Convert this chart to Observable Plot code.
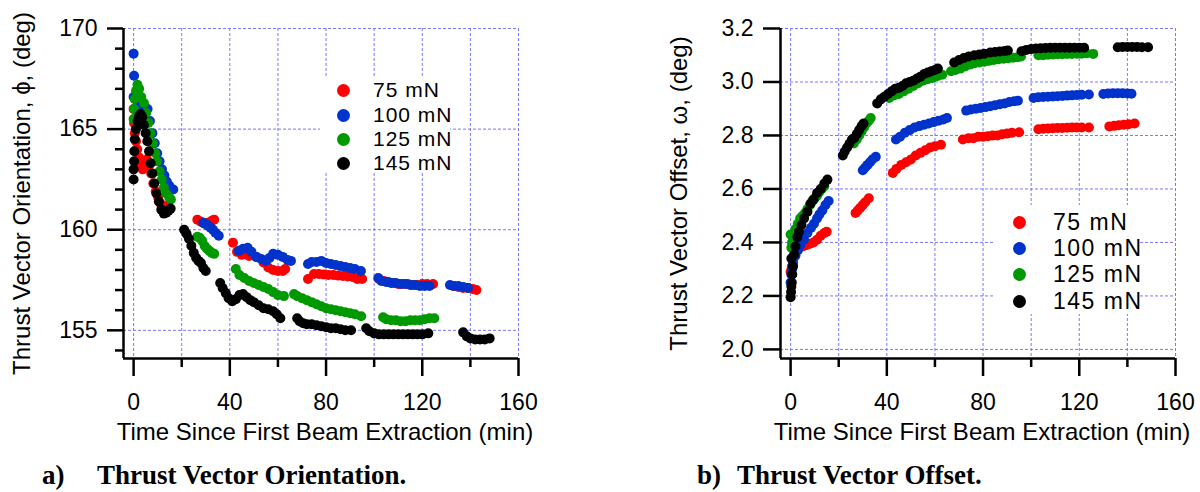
<!DOCTYPE html>
<html><head><meta charset="utf-8">
<script src="https://cdn.jsdelivr.net/npm/d3@7"></script>
<script src="https://cdn.jsdelivr.net/npm/@observablehq/plot@0.6"></script>
<style>
html,body{margin:0;padding:0;background:#fff;}
#wrap{position:relative;width:1200px;height:492px;overflow:hidden;font-family:"Liberation Sans",Arial,sans-serif;color:#000;}
.panel{position:absolute;top:0;}
.legend{position:absolute;background:#fff;color:#000;}
.legend .row{position:absolute;white-space:nowrap;}
.legend .sw{position:absolute;width:13px;height:13px;border-radius:50%;}
.caption{position:absolute;font-family:"Liberation Serif","Times New Roman",serif;font-weight:bold;font-size:27px;white-space:pre;line-height:27px;}
</style></head><body><div id="wrap"></div><script>
// ---- categories / labels ----
const seriesNames = ["75 mN", "100 mN", "125 mN", "145 mN"];
const seriesColors = ["#ff0000", "#0033cc", "#009900", "#000000"];
const xTicksMajor = [0, 40, 80, 120, 160];
const xTicksMinor = [20, 60, 100, 140];
const xGridTicks = [0, 20, 40, 60, 80, 100, 120, 140, 160];
const phiTicksMajor = [155, 160, 165, 170];
const phiTicksMinor = [154, 156, 157, 158, 159, 161, 162, 163, 164, 166, 167, 168, 169];
const omTicks = [2.0, 2.2, 2.4, 2.6, 2.8, 3.0, 3.2];
const xLabel = "Time Since First Beam Extraction (min)";
const phiLabel = "Thrust Vector Orientation, \u03D5, (deg)";
const omLabel = "Thrust Vector Offset, \u03C9, (deg)";

// ---- Thrust vector orientation phi (deg): [time (min), value] ----
const phi75 = [[0,166.0],[0.2,165.3],[0.5,164.8],[1,164.4],[1.5,164.0],[2.2,163.6],[3,163.2],[3.8,163.0],[4.6,163.4],[5.5,163.5],[6.4,163.2],[7.3,162.8],[8.2,162.3],[9.2,161.9],[10.2,161.6],[11.2,161.3],[12.2,161.1],[13.2,161.1],[14.2,161.2],
 [26.5,160.5],[28,160.4],[29.5,160.3],[31,160.35],[32.5,160.45],[33.5,160.5],
 [41.3,159.35],[43,158.9],[45,158.75],[48,158.7],[51,158.65],[54,158.37],[56,158.12],[58,158.0],[60,157.95],[62,157.95],[63,158.05],
 [72.5,157.55],[75,157.8],[77,157.8],[79,157.78],[81,157.75],[83,157.75],[85,157.72],[87,157.7],[89,157.68],[91,157.65],[93,157.55],[95,157.55],
 [102,157.55],[104,157.45],[106,157.4],[108,157.35],[110,157.3],[112,157.3],[114,157.3],[116,157.25],[118,157.25],[120,157.3],[122,157.3],[124.5,157.3],
 [133,157.2],[135,157.15],[137,157.1],[139,157.1],[141,157.05],[142.5,157.0]];
const phi100 = [[0,168.75],[0.2,167.65],[0,166.6],[0.6,166.5],[1.5,166.4],[2.5,166.3],[3.5,166.2],[4.5,166.1],[5.8,166.0],[6.8,165.4],[7.8,164.8],[8.8,164.3],[9.8,163.8],[10.8,163.4],[11.8,163.0],[12.8,162.7],[13.8,162.4],[14.8,162.2],[15.8,162.0],[16.5,162.0],
 [29,160.35],[30,160.3],[31,160.2],[32,160.1],[33,160.0],[34,159.85],[35.4,159.7],
 [43.8,158.95],[45.5,159.05],[47.4,159.1],[49,158.9],[51,158.65],[53,158.55],[55,158.45],[56.5,158.6],[58,158.8],[60,158.75],[62,158.65],[64,158.5],[65.4,158.45],
 [72.5,158.3],[74,158.4],[76,158.4],[78,158.45],[80,158.35],[82,158.3],[84,158.25],[86,158.2],[88,158.15],[90,158.1],[92,158.05],[94.5,157.95],
 [101.7,157.6],[103,157.45],[105,157.4],[107,157.35],[109,157.35],[111,157.3],[113,157.3],[115,157.25],[117,157.25],[119,157.2],[121,157.2],[123,157.2],
 [131.5,157.25],[133,157.2],[135,157.2],[137,157.15],[139,157.1]];
const phi125 = [[0,165.5],[0.2,166.0],[0.5,166.5],[1,166.9],[1.6,167.2],[2.3,167.0],[3.2,166.6],[4.3,166.3],[5.2,165.8],[6.1,165.3],[7,164.8],[8,164.3],[9,163.8],[9.8,163.4],[10.8,162.9],[11.7,162.5],[12.6,162.1],[13.6,161.8],[14.8,161.6],[15.5,161.5],
 [26.5,159.65],[27.5,159.6],[28.5,159.45],[29.5,159.2],[30.5,159.05],[31.5,158.95],[32.5,158.85],[33.5,158.8],
 [42.5,158.05],[44,157.75],[46,157.6],[48,157.45],[50,157.35],[52,157.25],[54,157.15],[56,157.05],[58,156.9],[60,156.75],[62.5,156.7],
 [66.7,156.8],[68,156.7],[70,156.6],[72,156.5],[74,156.4],[76,156.3],[78,156.2],[80,156.1],[82,156.05],[84,156.0],[86,155.95],[88,155.9],[90,155.85],[92,155.8],[94.6,155.7],
 [103.7,155.65],[105,155.55],[107,155.5],[109,155.5],[111,155.45],[113,155.45],[115,155.5],[117,155.5],[119,155.5],[121,155.55],[123,155.6],[125,155.6]];
const phi145 = [[0,162.5],[0,163.0],[0.2,163.4],[0.3,163.9],[0.5,164.5],[1,165.0],[1.6,165.4],[2.3,165.65],[2.9,165.75],[3.6,165.6],[4.3,165.2],[5,164.8],[5.7,164.4],[6.4,163.9],[7.1,163.3],[7.8,162.8],[8.6,162.3],[9.5,161.8],[10.5,161.4],[11.5,161.0],[12.6,160.8],[13.6,160.85],[14.5,160.95],[15.4,161.05],
 [21,160.0],[22,159.8],[23,159.55],[24,159.2],[25,158.85],[26,158.6],[27,158.45],[28,158.35],[29,158.1],[30,157.95],
 [36,157.35],[37,157.1],[38.3,156.85],[39.5,156.6],[41,156.45],[42.5,156.55],[44,156.75],[45.5,156.8],[47,156.65],[48.5,156.5],[50,156.4],[52,156.25],[54,156.1],[56,156.05],[58,155.95],[59.5,155.8],[61,155.6],
 [68,155.6],[69,155.45],[70.5,155.35],[72,155.3],[74,155.3],[76,155.25],[78,155.2],[80,155.15],[82,155.1],[84,155.1],[86,155.05],[88,155.0],[90.4,155.0],
 [96.7,155.1],[98,154.95],[100,154.85],[102,154.8],[104,154.8],[106,154.8],[108,154.8],[110,154.8],[112,154.8],[114,154.8],[116,154.8],[118,154.8],[120,154.8],[122.5,154.85],
 [137,154.9],[138.5,154.7],[140,154.6],[142,154.55],[144,154.55],[146,154.55],[148,154.6]];

// ---- Thrust vector offset omega (deg): [time (min), value] ----
const om75 = [[0,2.29],[0.5,2.31],[1,2.33],[1.5,2.35],[2.5,2.37],[3.5,2.38],[5,2.385],[6.5,2.39],[8,2.395],[9.5,2.40],[11,2.41],[12.5,2.425],[14,2.435],[15,2.44],
 [27,2.51],[28,2.52],[29,2.53],[30,2.54],[31,2.55],[32.5,2.565],
 [42.5,2.66],[44,2.675],[46,2.69],[48,2.70],[50,2.71],[52,2.725],[54,2.735],[56,2.745],[58,2.755],[60,2.76],[62.5,2.765],
 [71.6,2.785],[74,2.79],[76,2.79],[78,2.795],[80,2.795],[82,2.797],[84,2.80],[86,2.80],[88,2.805],[90,2.807],[92,2.81],[95,2.812],
 [103,2.823],[105,2.825],[107,2.826],[109,2.827],[111,2.828],[113,2.828],[115,2.829],[117,2.83],[119,2.83],[121,2.83],[124,2.83],
 [132.5,2.834],[134.5,2.836],[136.5,2.838],[138.5,2.84],[140.5,2.842],[143,2.845]];
const om100 = [[0,2.25],[0.3,2.28],[0.6,2.30],[1,2.32],[2,2.35],[3,2.37],[4,2.39],[5.6,2.41],[7,2.435],[8.5,2.455],[9.7,2.47],[11,2.49],[12,2.505],[13.2,2.52],[14.5,2.54],[15.8,2.555],
 [30,2.67],[31,2.68],[32,2.69],[33,2.70],[34,2.71],[35.4,2.72],
 [43.8,2.785],[45.5,2.795],[47.5,2.81],[49.5,2.82],[51.5,2.83],[53.5,2.835],[55.5,2.84],[57.5,2.845],[59.5,2.85],[61.5,2.855],[63.5,2.86],[65,2.865],
 [73,2.893],[75,2.897],[77,2.90],[79,2.903],[81,2.906],[83,2.909],[85,2.913],[87,2.917],[89,2.92],[91,2.925],[93,2.928],[94.5,2.93],
 [101,2.94],[103,2.943],[105,2.944],[107,2.945],[109,2.946],[111,2.947],[113,2.948],[115,2.949],[117,2.95],[119,2.951],[121,2.952],[124,2.953],
 [130,2.955],[132,2.957],[134,2.958],[136,2.958],[138,2.958],[140,2.957],[141.7,2.956]];
const om125 = [[0,2.43],[0.3,2.38],[0.6,2.40],[1,2.42],[2,2.45],[3,2.47],[4,2.49],[5,2.50],[6,2.51],[7,2.525],[8,2.54],[9,2.555],[10,2.565],[11,2.575],[12,2.59],[13,2.60],[14,2.61],
 [26.3,2.77],[27.5,2.785],[28.5,2.80],[29.5,2.815],[30.5,2.83],[31.5,2.845],[32.5,2.855],[33.3,2.865],
 [41,2.94],[43,2.95],[45,2.955],[47,2.965],[49,2.975],[51,2.985],[53,2.995],[55,3.005],[57,3.01],[59,3.015],[61,3.022],[63,3.027],
 [66.7,3.04],[68.5,3.045],[70.5,3.05],[72.5,3.058],[74.5,3.065],[76.5,3.07],[78.5,3.073],[80.5,3.076],[82.5,3.079],[84.5,3.082],[86.5,3.085],[88.5,3.087],[90.5,3.089],[92.5,3.091],[94.5,3.093],[95.8,3.095],
 [103,3.10],[105,3.10],[107,3.102],[109,3.103],[111,3.104],[113,3.104],[115,3.105],[117,3.105],[119,3.106],[121,3.106],[123,3.107],[125.8,3.105]];
const om145 = [[0,2.195],[0.2,2.215],[0.3,2.235],[0.5,2.25],[0.7,2.28],[1,2.31],[0.3,2.34],[1.5,2.355],[2,2.385],[2.8,2.42],[3.5,2.44],[4.5,2.465],[5.6,2.49],[7,2.515],[8.3,2.545],[9.5,2.56],[11,2.585],[12.5,2.60],[14,2.62],[15.3,2.635],
 [21.7,2.725],[22.5,2.74],[23.5,2.755],[24.5,2.77],[25.5,2.785],[26.4,2.79],[27.5,2.805],[28.5,2.82],[29.5,2.835],[30.3,2.845],
 [36,2.92],[37.5,2.935],[39,2.945],[40.5,2.955],[42,2.965],[43.5,2.975],[45,2.978],[46.5,2.985],[48,2.995],[49.5,3.0],[51,3.005],[52.5,3.013],[54,3.02],[55.5,3.03],[57,3.035],[58.5,3.04],[60,3.045],[61.2,3.05],
 [68,3.073],[70,3.082],[72,3.09],[74,3.095],[76.4,3.10],[78.5,3.103],[80.5,3.106],[83,3.11],[85,3.112],[87,3.114],[89,3.116],[90.3,3.118],
 [96,3.115],[98,3.12],[100,3.123],[102,3.125],[104,3.126],[106,3.127],[108,3.128],[110,3.128],[112,3.128],[114,3.128],[116,3.128],[118,3.128],[120,3.128],[122,3.128],
 [136,3.13],[138,3.131],[140,3.131],[142,3.131],[144,3.131],[146,3.13],[148.6,3.13]];

const xDomain = [-4.2, 160];
const phiDomain = [153.6, 170];
const omDomain = [1.966, 3.2];

const gridColor = "#7878ff";
const wrap = document.getElementById("wrap");

function makePanel(cfg) {
  const marks = [
    Plot.gridX(xGridTicks, {stroke: gridColor, strokeOpacity: 1, strokeWidth: 1, strokeDasharray: "3,2"}),
    Plot.gridY(cfg.yGrid, {stroke: gridColor, strokeOpacity: 1, strokeWidth: 1, strokeDasharray: "3,2"})
  ];
  cfg.series.forEach((s, i) => {
    marks.push(Plot.dot(s, {x: d => d[0], y: d => d[1], r: 5, fill: seriesColors[i], stroke: null}));
  });
  marks.push(
    Plot.ruleX([cfg.xDomain[0]], {stroke: "#000", strokeWidth: 2.5}),
    Plot.ruleY([cfg.yDomain[0]], {stroke: "#000", strokeWidth: 2.5}),
    Plot.axisX(xTicksMajor, {tickSize: 18, tickPadding: 17, strokeWidth: 2.5, label: null, fontSize: 23}),
    Plot.axisX(xTicksMinor, {tickSize: 9, strokeWidth: 2.5, label: null, tickFormat: () => ""}),
    Plot.axisY(cfg.yMajor, {tickSize: cfg.yTickSize, tickPadding: 10, strokeWidth: 2.5, label: null, fontSize: 23, tickFormat: cfg.yFormat})
  );
  if (cfg.yMinor.length) marks.push(Plot.axisY(cfg.yMinor, {tickSize: 8, strokeWidth: 2.5, label: null, tickFormat: () => ""}));
  marks.push(
    Plot.text([xLabel], {text: d => d, frameAnchor: "bottom", textAnchor: "middle", lineAnchor: "middle", dy: 74, dx: 4, fontSize: 24}),
    Plot.text([cfg.yLabel], {text: d => d, frameAnchor: "left", textAnchor: "middle", lineAnchor: "middle", rotate: -90, dx: -101, fontSize: 24})
  );
  const svg = Plot.plot({
    width: 600, height: 450,
    marginLeft: cfg.marginLeft, marginRight: cfg.marginRight, marginTop: 28, marginBottom: 92,
    x: {domain: cfg.xDomain, label: null},
    y: {domain: cfg.yDomain, label: null},
    style: {fontFamily: "'Liberation Sans', Arial, sans-serif", fontSize: "23px", color: "#000", background: "transparent", overflow: "visible"},
    marks
  });
  const div = document.createElement("div");
  div.className = "panel";
  div.style.left = cfg.left + "px";
  div.appendChild(svg);
  wrap.appendChild(div);
}

makePanel({left: 0, marginLeft: 123, marginRight: 82, xDomain, yDomain: phiDomain,
  yMajor: phiTicksMajor, yMinor: phiTicksMinor, yGrid: phiTicksMajor, yTickSize: 16,
  yFormat: d => String(d), yLabel: phiLabel, series: [phi75, phi100, phi125, phi145]});
makePanel({left: 600, marginLeft: 180, marginRight: 25, xDomain, yDomain: omDomain,
  yMajor: omTicks, yMinor: [], yGrid: omTicks, yTickSize: 17,
  yFormat: d => d.toFixed(1), yLabel: omLabel, series: [om75, om100, om125, om145]});

function makeLegend(box, swX, textX, rowsY, fontSize, lh, ls) {
  const lg = document.createElement("div");
  lg.className = "legend";
  Object.assign(lg.style, {left: box[0] + "px", top: box[1] + "px", width: (box[2] - box[0]) + "px", height: (box[3] - box[1]) + "px", fontSize: fontSize + "px"});
  seriesNames.forEach((name, i) => {
    const sw = document.createElement("div");
    sw.className = "sw";
    Object.assign(sw.style, {left: (swX - box[0] - 6.5) + "px", top: (rowsY[i] - box[1] - 6.5) + "px", background: seriesColors[i]});
    lg.appendChild(sw);
    const row = document.createElement("div");
    row.className = "row";
    row.textContent = name;
    Object.assign(row.style, {left: (textX - box[0]) + "px", top: (rowsY[i] - box[1] - lh / 2) + "px", lineHeight: lh + "px", height: lh + "px", letterSpacing: ls + "px"});
    lg.appendChild(row);
  });
  wrap.appendChild(lg);
}
makeLegend([320, 77, 450, 173], 343, 373, [90, 115, 139, 163], 21, 22, 1);
makeLegend([995, 205, 1139, 314], 1019, 1053, [222, 248, 274, 301], 23, 24, 1.5);

function caption(x, y, txt) {
  const c = document.createElement("div");
  c.className = "caption";
  c.textContent = txt;
  c.style.left = x + "px";
  c.style.top = y + "px";
  wrap.appendChild(c);
}
caption(42, 462, "a)");
caption(97, 462, "Thrust Vector Orientation.");
caption(697, 462, "b)");
caption(737, 462, "Thrust Vector Offset.");
</script></body></html>
